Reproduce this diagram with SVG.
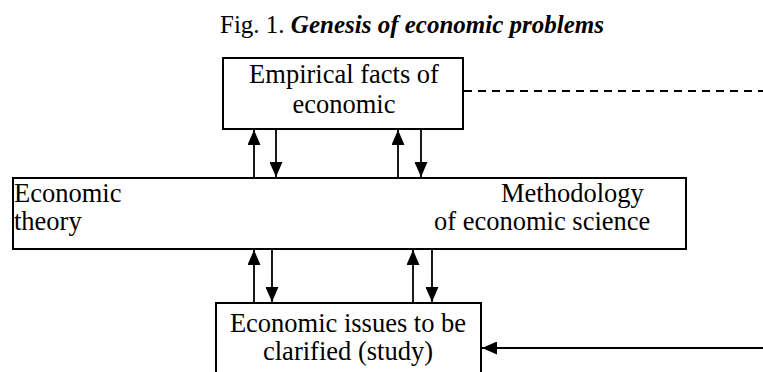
<svg xmlns="http://www.w3.org/2000/svg" width="763" height="372" viewBox="0 0 763 372">
<defs>
<marker id="ah" viewBox="0 0 10 10" refX="10" refY="5" markerWidth="15" markerHeight="13" markerUnits="userSpaceOnUse" orient="auto" preserveAspectRatio="none">
<path d="M0,0 L10,5 L0,10 z" fill="#000"/>
</marker>
</defs>
<style>
.box{fill:#fff;stroke:#000;stroke-width:2}
.c{stroke:#000;stroke-width:1.8;fill:none}
.dash{stroke:#000;stroke-width:2;fill:none;stroke-dasharray:8,6}
</style>
<rect width="763" height="372" fill="#fff"/>
<g font-family="'Liberation Serif', 'Times New Roman', serif" fill="#000">
<text x="220" y="33" font-size="25">Fig. 1. <tspan font-weight="bold" font-style="italic">Genesis of economic problems</tspan></text>
</g>
<g id="connectors">
<line class="dash" x1="464" y1="91" x2="763" y2="91"/>
<line class="c" x1="254" y1="177" x2="254" y2="130" marker-end="url(#ah)"/>
<line class="c" x1="276" y1="130" x2="276" y2="177" marker-end="url(#ah)"/>
<line class="c" x1="398" y1="177" x2="398" y2="130" marker-end="url(#ah)"/>
<line class="c" x1="421" y1="130" x2="421" y2="177" marker-end="url(#ah)"/>
<line class="c" x1="254" y1="302" x2="254" y2="250" marker-end="url(#ah)"/>
<line class="c" x1="272" y1="250" x2="272" y2="302" marker-end="url(#ah)"/>
<line class="c" x1="413" y1="302" x2="413" y2="250" marker-end="url(#ah)"/>
<line class="c" x1="432" y1="250" x2="432" y2="302" marker-end="url(#ah)"/>
<line class="c" x1="763" y1="348" x2="482" y2="348" marker-end="url(#ah)"/>
</g>
<g id="empirical" font-family="'Liberation Serif', 'Times New Roman', serif" font-size="26.5" fill="#000">
<rect class="box" x="223" y="58" width="240" height="71"/>
<text x="344" y="83" text-anchor="middle">Empirical facts of</text>
<text x="344" y="113" text-anchor="middle">economic</text>
</g>
<g id="theory" font-family="'Liberation Serif', 'Times New Roman', serif" font-size="26.5" fill="#000">
<rect class="box" x="13" y="178" width="673" height="71"/>
<text x="14" y="202">Economic</text>
<text x="14" y="230">theory</text>
<text x="501" y="202">Methodology</text>
<text x="434" y="230">of economic science</text>
</g>
<g id="issues" font-family="'Liberation Serif', 'Times New Roman', serif" font-size="26.5" fill="#000">
<rect class="box" x="216" y="303" width="265" height="80"/>
<text x="348" y="332" text-anchor="middle">Economic issues to be</text>
<text x="348" y="360" text-anchor="middle">clarified (study)</text>
</g>
</svg>
